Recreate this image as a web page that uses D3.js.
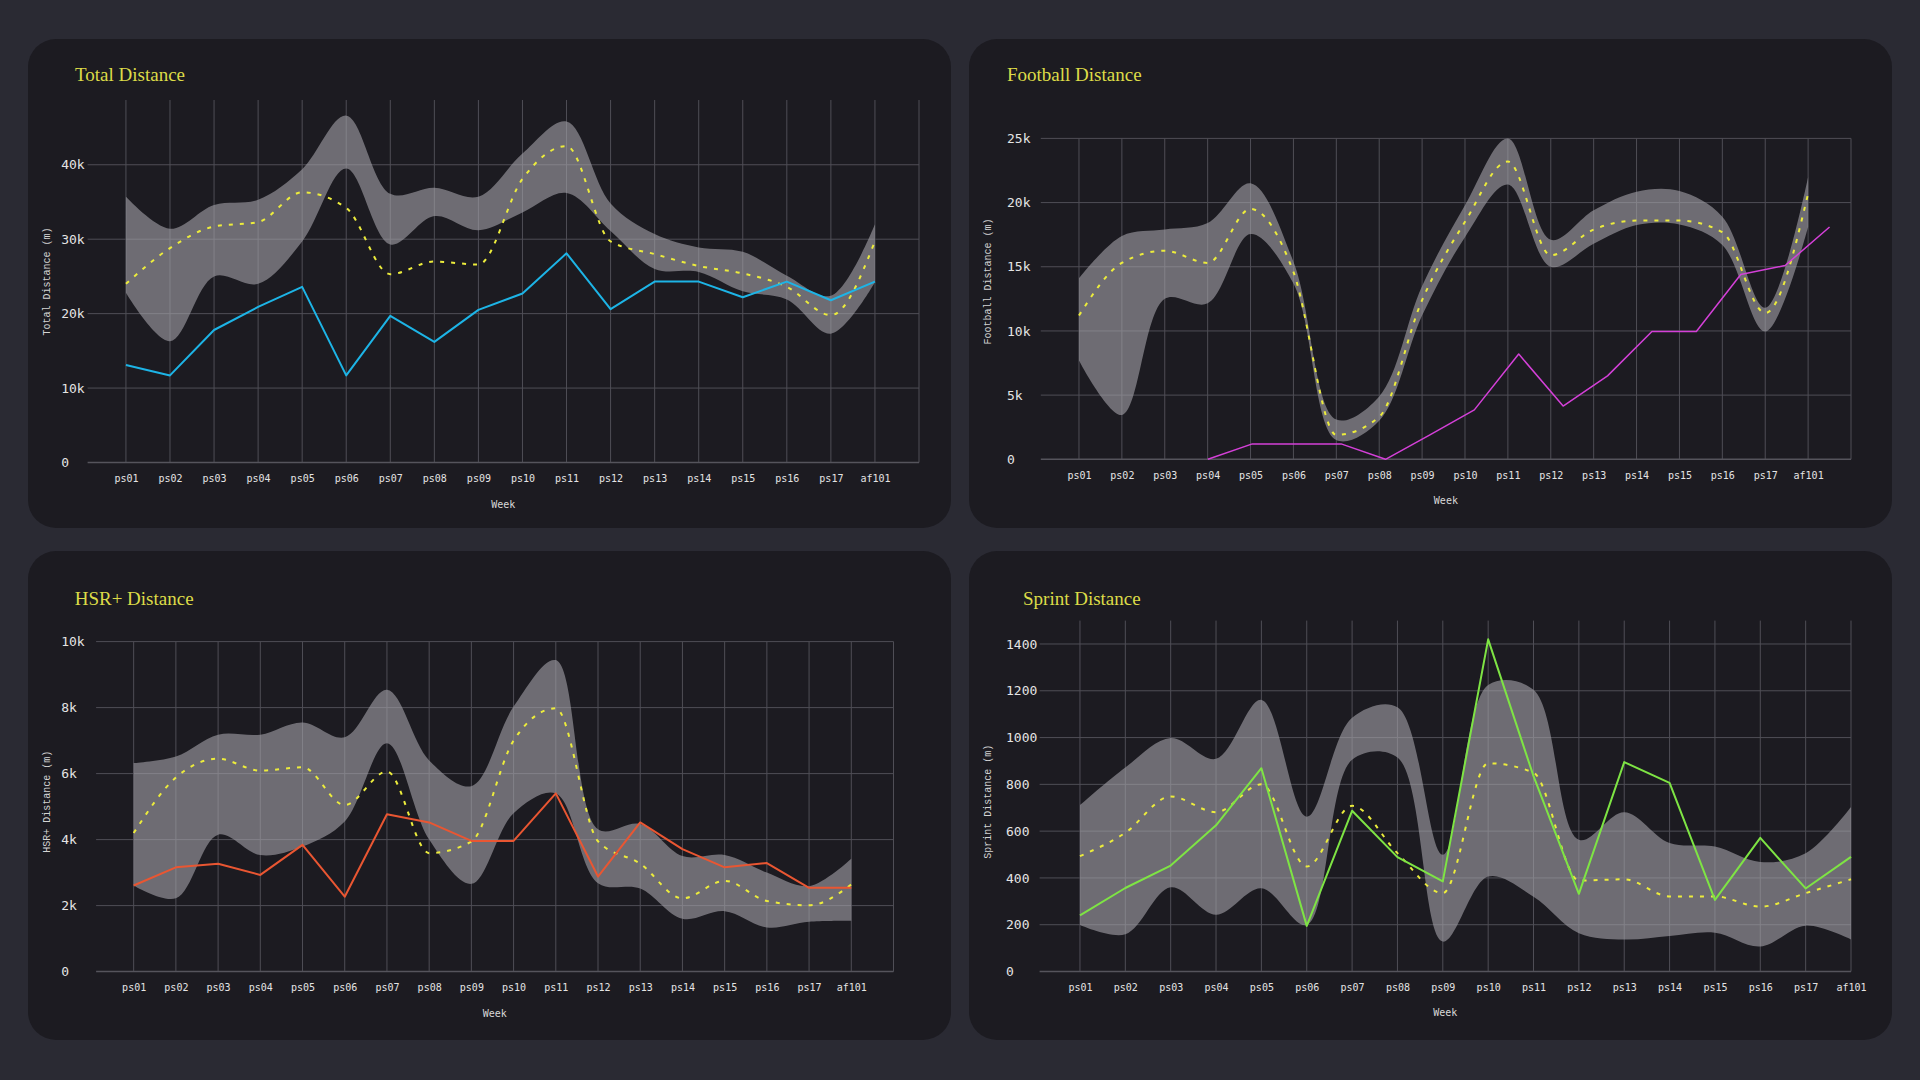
<!DOCTYPE html>
<html>
<head>
<meta charset="utf-8">
<script src="https://cdn.jsdelivr.net/npm/d3@7"></script>
<style>
  html, body { margin: 0; padding: 0; background: #2a2a33; }
  svg { display: block; }
</style>
</head>
<body>
<svg id="chart" width="1920" height="1080"></svg>
<script>
// weeks shared by all four charts
const weeks = ["ps01", "ps02", "ps03", "ps04", "ps05", "ps06", "ps07", "ps08", "ps09",
               "ps10", "ps11", "ps12", "ps13", "ps14", "ps15", "ps16", "ps17", "af101"];

// Total distance (m)
const totalCurrent = [13100, 11700, 17800, 20900, 23600, 11700, 19700, 16200, 20500, 22700, 28100, 20600, 24300, 24300, 22200, 24300, 21800, 24300];
const totalMean    = [24000, 28800, 31700, 32300, 36300, 34200, 25300, 27000, 26600, 38100, 42500, 29700, 28000, 26400, 25400, 23600, 19800, 29700];
const totalUpper   = [35700, 31400, 34600, 35300, 39400, 46600, 36100, 36900, 35700, 41500, 45800, 34800, 30700, 28900, 28300, 25100, 22400, 32000];
const totalLower   = [22800, 16300, 25000, 24000, 29700, 39500, 29300, 33100, 31200, 33600, 36200, 31100, 26000, 25600, 23000, 21900, 17300, 24200];
const totalTicks   = [0, 10000, 20000, 30000, 40000];

// Football distance (m)
const footballCurrent = [null, null, null, 0, 1200, 1200, 1200, 0, 1900, 3850, 8200, 4150, 6500, 9950, 9950, 14400, 15100, 18100];
const footballMean    = [11200, 15300, 16250, 15300, 19500, 14600, 1900, 3300, 12400, 18500, 23200, 15900, 17900, 18600, 18600, 17700, 11400, 20700];
const footballUpper   = [14100, 17400, 17900, 18400, 21500, 15400, 3100, 4900, 13500, 19800, 25000, 17100, 19400, 20850, 20900, 18900, 11800, 22000];
const footballLower   = [7700, 3450, 12500, 12150, 17550, 13700, 1500, 3000, 11200, 17300, 21400, 15000, 16800, 18250, 18300, 16700, 9950, 18100];
const footballTicks   = [0, 5000, 10000, 15000, 20000, 25000];

// HSR+ distance (m)
const hsrCurrent = [2610, 3160, 3270, 2930, 3840, 2270, 4770, 4520, 3960, 3960, 5400, 2880, 4520, 3710, 3160, 3290, 2540, 2540];
const hsrMean    = [4200, 5880, 6450, 6090, 6190, 5050, 6060, 3590, 3940, 7000, 7980, 3950, 3270, 2220, 2750, 2140, 2010, 2640];
const hsrUpper   = [6320, 6520, 7180, 7180, 7550, 7100, 8540, 6400, 5620, 8030, 9440, 4310, 4470, 3500, 3530, 3000, 2590, 3420];
const hsrLower   = [2610, 2220, 4150, 3530, 3790, 4550, 6920, 4000, 2660, 4800, 5400, 2680, 2520, 1600, 1830, 1340, 1510, 1540];
const hsrTicks   = [0, 2000, 4000, 6000, 8000, 10000];

// Sprint distance (m)
const sprintCurrent = [240, 357, 453, 625, 869, 195, 687, 489, 385, 1420, 835, 332, 895, 806, 306, 571, 355, 490];
const sprintMean    = [493, 593, 748, 681, 800, 449, 708, 506, 335, 890, 850, 389, 394, 321, 321, 277, 335, 394];
const sprintUpper   = [711, 872, 998, 909, 1161, 662, 1085, 1130, 499, 1225, 1204, 563, 681, 549, 534, 468, 505, 703];
const sprintLower   = [199, 159, 360, 243, 356, 199, 905, 915, 128, 406, 320, 164, 137, 152, 166, 107, 196, 137];
const sprintTicks   = [0, 200, 400, 600, 800, 1000, 1200, 1400];

const panelW = 923, panelH = 489;
const gridColor = "#4f4e56";
const bandColor = "rgba(165,164,170,0.6)";
const meanColor = "#ecec3c";
const kFormat = d3.format("~s");

const panels = [
  { title: "Total Distance", yLabel: "Total Distance (m)", px: 28, py: 39,
    left: 59.6, top: 61, w: 831.4, h: 362.5, padL: 0.87, padR: 1, yMax: 48700,
    ticks: totalTicks, fmt: kFormat, tickX: 33.2, yLabelY: 242.5, titleX: 47, titleY: 41.7,
    current: totalCurrent, mean: totalMean, upper: totalUpper, lower: totalLower,
    color: "#1db4e6", lineW: 2 },
  { title: "Football Distance", yLabel: "Football Distance (m)", px: 969, py: 39,
    left: 71.8, top: 99.4, w: 810.2, h: 320.9, padL: 0.89, padR: 1, yMax: 25000,
    ticks: footballTicks, fmt: kFormat, tickX: 38, yLabelY: 242.5, titleX: 38, titleY: 42,
    current: footballCurrent, mean: footballMean, upper: footballUpper, lower: footballLower,
    color: "#d440d8", lineW: 1.5, stretch: [0.1, 0.5] },
  { title: "HSR+ Distance", yLabel: "HSR+ Distance (m)", px: 28, py: 551,
    left: 68.1, top: 90.6, w: 797.4, h: 330, padL: 0.89, padR: 1, yMax: 10000,
    ticks: hsrTicks, fmt: kFormat, tickX: 33.2, yLabelY: 250.7, titleX: 46.7, titleY: 53.7,
    current: hsrCurrent, mean: hsrMean, upper: hsrUpper, lower: hsrLower,
    color: "#e95632", lineW: 2 },
  { title: "Sprint Distance", yLabel: "Sprint Distance (m)", px: 969, py: 551,
    left: 70.6, top: 69.6, w: 811.4, h: 350.9, padL: 0.89, padR: 0, yMax: 1500,
    ticks: sprintTicks, fmt: d3.format("d"), tickX: 37, yLabelY: 250.7, titleX: 54, titleY: 54,
    current: sprintCurrent, mean: sprintMean, upper: sprintUpper, lower: sprintLower,
    color: "#7ee444", lineW: 2 }
];

const svg = d3.select("#chart");

function drawPanel(p) {
  const g = svg.append("g").attr("transform", `translate(${p.px},${p.py})`);

  g.append("rect")
    .attr("width", panelW).attr("height", panelH)
    .attr("rx", 28).attr("fill", "#1c1b21");

  g.append("text")
    .attr("x", p.titleX).attr("y", p.titleY)
    .attr("fill", "#dcdc48")
    .style("font-family", "'Liberation Serif', serif")
    .style("font-size", "19px")
    .text(p.title);

  g.append("text")
    .attr("transform", `translate(${19.8},${p.yLabelY}) rotate(-90)`)
    .attr("text-anchor", "middle")
    .attr("dominant-baseline", "middle")
    .attr("fill", "#d4d4d4")
    .style("font-family", "'Liberation Mono', monospace")
    .style("font-size", "10px")
    .text(p.yLabel);

  const W = p.w, H = p.h;
  const plot = g.append("g").attr("transform", `translate(${p.left},${p.top})`);

  const step = W / (weeks.length - 1 + p.padL + p.padR);
  const x = d3.scalePoint()
    .domain(weeks)
    .range([p.padL * step, W - p.padR * step]);

  const y = d3.scaleLinear()
    .domain([0, p.yMax])
    .range([H, 0]);

  // horizontal grid
  plot.append("g").selectAll("line")
    .data(p.ticks.filter(d => d > 0))
    .join("line")
    .attr("x1", 0).attr("x2", W)
    .attr("y1", d => y(d)).attr("y2", d => y(d))
    .attr("stroke", gridColor);

  // vertical grid, one per week plus the right edge
  const vLines = weeks.map(w => x(w));
  if (p.padR > 0) vLines.push(W);
  plot.append("g").selectAll("line")
    .data(vLines)
    .join("line")
    .attr("x1", d => d).attr("x2", d => d)
    .attr("y1", 0).attr("y2", H)
    .attr("stroke", gridColor);

  // bottom axis line
  plot.append("line")
    .attr("x1", 0).attr("x2", W)
    .attr("y1", H).attr("y2", H)
    .attr("stroke", "#55545c").attr("stroke-width", 1.5);

  const xAxis = plot.append("g")
    .attr("transform", `translate(0,${H})`)
    .call(d3.axisBottom(x).tickSize(0).tickPadding(0));
  xAxis.select(".domain").remove();
  xAxis.selectAll("text")
    .attr("y", 19.5).attr("dy", null)
    .attr("fill", "#e4e4e4")
    .style("font-family", "'DejaVu Sans Mono', monospace")
    .style("font-size", "10px");

  const yAxis = plot.append("g")
    .call(d3.axisLeft(y).tickValues(p.ticks).tickFormat(p.fmt).tickSize(0));
  yAxis.select(".domain").remove();
  yAxis.selectAll("text")
    .attr("x", p.tickX - p.left)
    .attr("text-anchor", "start")
    .attr("fill", "#e4e4e4")
    .style("font-family", "'DejaVu Sans Mono', monospace")
    .style("font-size", "13px");

  plot.append("text")
    .attr("x", W / 2).attr("y", H + 45)
    .attr("text-anchor", "middle")
    .attr("fill", "#d8d8d8")
    .style("font-family", "'DejaVu Sans Mono', monospace")
    .style("font-size", "10px")
    .text("Week");

  // range band
  const band = d3.area()
    .x((d, i) => x(weeks[i]))
    .y0((d, i) => y(p.lower[i]))
    .y1((d, i) => y(p.upper[i]))
    .curve(d3.curveCatmullRom.alpha(0.5));

  plot.append("path")
    .datum(p.upper)
    .attr("d", band)
    .attr("fill", bandColor);

  // average line
  const meanLine = d3.line()
    .x((d, i) => x(weeks[i]))
    .y(d => y(d))
    .curve(d3.curveMonotoneX);

  plot.append("path")
    .datum(p.mean)
    .attr("d", meanLine)
    .attr("fill", "none")
    .attr("stroke", meanColor)
    .attr("stroke-width", 2)
    .attr("stroke-dasharray", "4,7");

  // current season line
  let xc = x;
  if (p.stretch) {
    xc = d3.scalePoint()
      .domain(weeks)
      .range([x(weeks[0]) - p.stretch[0] * step, x(weeks[weeks.length - 1]) + p.stretch[1] * step]);
  }
  const currentLine = d3.line()
    .defined(d => d !== null)
    .x((d, i) => xc(weeks[i]))
    .y(d => y(d));

  plot.append("path")
    .datum(p.current)
    .attr("d", currentLine)
    .attr("fill", "none")
    .attr("stroke", p.color)
    .attr("stroke-width", p.lineW)
    .attr("stroke-linejoin", "round");
}

panels.forEach(drawPanel);
</script>
</body>
</html>
